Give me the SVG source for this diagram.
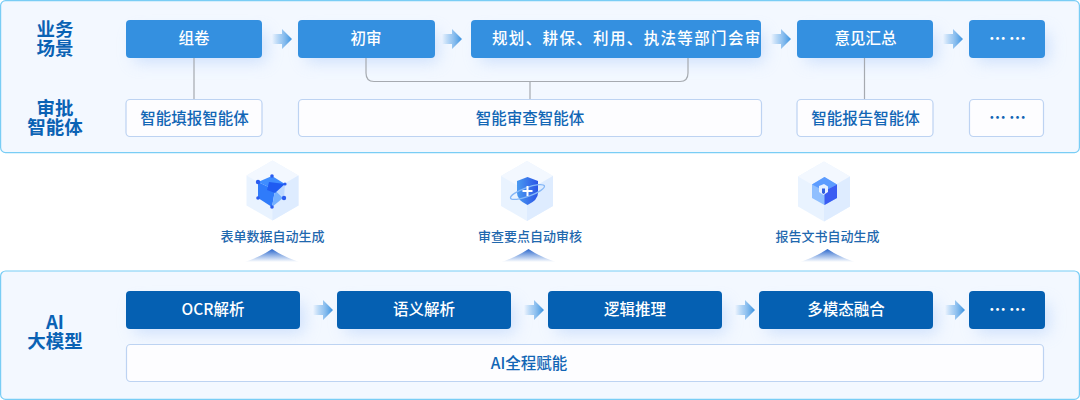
<svg xmlns="http://www.w3.org/2000/svg" width="1080" height="400" viewBox="0 0 1080 400">
<style>
text{font-family:"Noto Sans CJK SC","Noto Sans",sans-serif;text-anchor:middle}
.panel{fill:#f3f8ff;stroke:#79cdf5;stroke-width:1.2}
.t{fill:#0a62b4;font-size:18.5px;font-weight:700}
.b1{fill:#3490e0}.b2{fill:#0560b2}
.w{fill:#fff;font-size:15.5px;font-weight:500}
.o{fill:#fdfdff;stroke:#bdd3f2;stroke-width:1.2}
.d{fill:#1266b5;font-size:15.5px;font-weight:500}
.c{fill:#1f68ae;font-size:13px;font-weight:500}
.e{font-size:17px;font-weight:700;word-spacing:-1px}
.ln{fill:none;stroke:#a6aab0;stroke-width:1.2}
.dot{fill:#2a5cf0}
.f1{fill:#f3f8ff}.f2{fill:#e9f3ff}.f3{fill:#deecff}
</style>
<defs>
<linearGradient id="ag"><stop offset="0" stop-color="#3490e0" stop-opacity="0"/><stop offset=".5" stop-color="#5fa6e8" stop-opacity=".6"/><stop offset="1" stop-color="#3a92e0"/></linearGradient>
<linearGradient id="up" x1="0" y1="0" x2="0" y2="1"><stop offset="0" stop-color="#2a66cc"/><stop offset="1" stop-color="#2f6fd0" stop-opacity="0"/></linearGradient>
<linearGradient id="sd"><stop offset="0" stop-color="#4a9af0"/><stop offset="1" stop-color="#2c55e6"/></linearGradient>
<filter id="sh" x="-30%" y="-60%" width="160%" height="260%"><feGaussianBlur stdDeviation="8"/></filter>
<path id="arr" d="M0 -5H10V-10L20 0L10 10V5H0Z" fill="url(#ag)"/>
<path id="tri" d="M-27 13Q-12 8 0 0Q12 8 27 13Z" fill="url(#up)"/>
<g id="hex"><path class="f2" d="M0 0L26 15V45L0 60L-26 45V15Z"/><path class="f1" d="M0 0L26 15L0 30L-26 15Z"/><path class="f3" d="M0 30L26 15V45L0 60Z"/></g>
</defs>
<rect width="1080" height="400" fill="#fff"/>
<rect id="panel-top" class="panel" x="0.600" y="0.600" width="1078.800" height="152" rx="5"/>
<rect id="panel-bottom" class="panel" x="0.600" y="271" width="1078.800" height="128.400" rx="5"/>
<g fill="#b4cffa" opacity=".6" filter="url(#sh)">
<rect x="134" y="32" width="132" height="30"/><rect x="306" y="32" width="132" height="30"/><rect x="480" y="32" width="284" height="30"/><rect x="805" y="32" width="132" height="30"/><rect x="977" y="32" width="72" height="30"/>
<rect x="134" y="303" width="170" height="30"/><rect x="345" y="303" width="170" height="30"/><rect x="556" y="303" width="170" height="30"/><rect x="767" y="303" width="170" height="30"/><rect x="977" y="303" width="72" height="30"/>
</g>
<g id="connectors">
<path class="ln" d="M194 57V99M366 57V73Q366 81.500 374 81.500H680Q688 81.500 688 73V57M530 81.500V99M864.500 57V99"/>
<use href="#arr" x="272" y="39"/><use href="#arr" x="442" y="39"/><use href="#arr" x="771" y="39"/><use href="#arr" x="943" y="39"/>
<use href="#arr" x="313" y="310"/><use href="#arr" x="524" y="310"/><use href="#arr" x="735" y="310"/><use href="#arr" x="945" y="310"/>
<use href="#tri" x="272" y="249"/><use href="#tri" x="528.500" y="249"/><use href="#tri" x="827.500" y="249"/>
</g>
<g id="label-scene"><text class="t" x="55" y="35.500">业务<tspan x="55" dy="19">场景</tspan></text></g>
<g id="label-agent"><text class="t" x="55" y="114.500">审批<tspan x="55" dy="19">智能体</tspan></text></g>
<g id="label-ai"><text class="t" x="55" y="328.500">AI<tspan x="55" dy="19">大模型</tspan></text></g>
<g id="n1"><rect class="b1" x="126" y="20" width="136" height="38" rx="4"/><text class="w" x="194" y="44">组卷</text></g>
<g id="n2"><rect class="b1" x="298" y="20" width="137" height="38" rx="4"/><text class="w" x="366" y="44">初审</text></g>
<g id="n3"><rect class="b1" x="471" y="20" width="290" height="38" rx="4"/><text class="w" x="492" y="44" style="text-anchor:start;letter-spacing:1.350px">规划、耕保、利用、执法等部门会审</text></g>
<g id="n4"><rect class="b1" x="797" y="20" width="136" height="38" rx="4"/><text class="w" x="865.500" y="44">意见汇总</text></g>
<g id="n5"><rect class="b1" x="969" y="20" width="76" height="38" rx="4"/><text class="w e" x="1007.500" y="45">… …</text></g>
<g id="a1"><rect class="o" x="126" y="99.500" width="136" height="37" rx="4"/><text class="d" x="194.500" y="123.500">智能填报智能体</text></g>
<g id="a2"><rect class="o" x="298.500" y="99.500" width="463" height="37" rx="4"/><text class="d" x="530" y="123.500">智能审查智能体</text></g>
<g id="a3"><rect class="o" x="797" y="99.500" width="136" height="37" rx="4"/><text class="d" x="865.500" y="123.500">智能报告智能体</text></g>
<g id="a4"><rect class="o" x="969.500" y="99.500" width="74" height="37" rx="4"/><text class="d e" x="1007.500" y="124">… …</text></g>
<g id="cap1"><use href="#hex" x="272.500" y="160.500"/>
<path d="M272 176L285 184L275 190L258 182Z" fill="#3f8dff"/><path d="M258 182L275 190L272 207L258 198Z" fill="#2f7bfa"/><path d="M275 190L283 198L272 207Z" fill="#74b0ff"/><path d="M285 184L284 198L275 190Z" fill="#bcd8ff"/><path d="M269 182L285 184L275 193L267 190Z" fill="#1f5cf2"/>
<circle class="dot" cx="272" cy="176" r="1.800"/><circle class="dot" cx="258" cy="182" r="2.200"/><circle class="dot" cx="285" cy="184" r="1.600"/><circle class="dot" cx="284" cy="198" r="2.200"/><circle class="dot" cx="272" cy="207" r="1.800"/><circle class="dot" cx="258" cy="198" r="1.800"/>
<text class="c" x="272.500" y="241">表单数据自动生成</text></g>
<g id="cap2"><use href="#hex" x="527" y="161"/>
<path d="M527.500 177L538 181V193Q538 200 527.500 205Q517 200 517 193V181Z" fill="url(#sd)"/><ellipse cx="527.500" cy="192" rx="18" ry="4.500" transform="rotate(-20 527.500 192)" fill="none" stroke="#86b8f7" stroke-width="1.300"/><path d="M526.500 186H528.500V190H532.500V192H528.500V196H526.500V192H522.500V190H526.500Z" fill="#fff"/>
<text class="c" x="530" y="241">审查要点自动审核</text></g>
<g id="cap3"><use href="#hex" x="824" y="161.500"/>
<path d="M824.500 177L837 184.500V198L824.500 205L812 198V184.500Z" fill="#8fbfff"/><path d="M824.500 177L837 184.500L824.500 191L812 184.500Z" fill="#5c9cff"/><path d="M824.500 191L837 184.500V198L824.500 205Z" fill="#3a5cf2"/><path d="M819 186L824 184L828 186.500V192L823.500 195L819 192Z" fill="#e6f0ff"/><path d="M822 188.500H825V193L823.500 194L822 193Z" fill="#2f5fe0"/>
<text class="c" x="827.500" y="241">报告文书自动生成</text></g>
<g id="m1"><rect class="b2" x="126" y="291" width="174" height="38" rx="4"/><text class="w" x="213" y="315">OCR解析</text></g>
<g id="m2"><rect class="b2" x="337" y="291" width="174" height="38" rx="4"/><text class="w" x="424" y="315">语义解析</text></g>
<g id="m3"><rect class="b2" x="548" y="291" width="174" height="38" rx="4"/><text class="w" x="635" y="315">逻辑推理</text></g>
<g id="m4"><rect class="b2" x="759" y="291" width="174" height="38" rx="4"/><text class="w" x="846" y="315">多模态融合</text></g>
<g id="m5"><rect class="b2" x="969" y="291" width="76" height="38" rx="4"/><text class="w e" x="1007.500" y="316">… …</text></g>
<g id="bar"><rect class="o" x="126.500" y="344.500" width="917" height="37" rx="4"/><text class="d" x="529" y="368.500">AI全程赋能</text></g>
</svg>
